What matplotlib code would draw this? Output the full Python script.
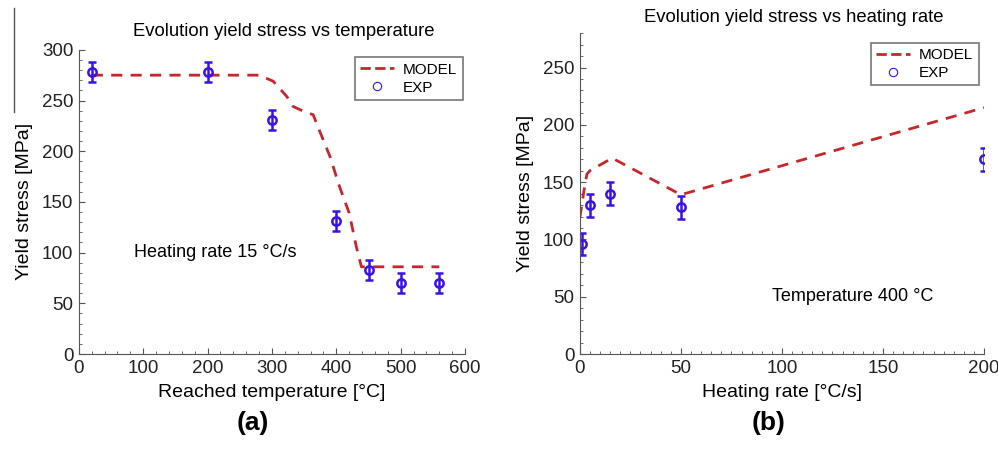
import matplotlib
matplotlib.use("Agg")
import matplotlib.pyplot as plt
from matplotlib.lines import Line2D
from matplotlib.ticker import MultipleLocator
import numpy as np

plt.rcParams['font.family'] = ['Liberation Sans', 'DejaVu Sans']

# (a) yield stress vs reached temperature, heating rate 15 C/s
temp_model = [20, 280, 302, 323, 333, 354, 364, 374, 390, 405, 420, 431, 439, 560]
stress_model_a = [275, 275, 269, 254, 244, 238, 236, 220, 195, 165, 139, 106, 86, 86]
temp_exp = [20, 200, 300, 400, 450, 500, 560]
stress_exp_a = [278, 278, 231, 131, 83, 70, 70]
err_a = [10, 10, 10, 10, 10, 10, 10]

# (b) yield stress vs heating rate, temperature 400 C
rate_model = [0, 2, 3.5, 5, 16, 50, 200]
stress_model_b = [119, 142, 157, 160, 171, 139, 215]
rate_exp = [1, 5, 15, 50, 200]
stress_exp_b = [96, 130, 140, 128, 170]
err_b = [10, 10, 10, 10, 10]

red = '#c8262c'
blue = '#3a12e6'

fig = plt.figure(figsize=(9.98, 4.5), dpi=100)
ax1 = fig.add_axes([0.079, 0.2133, 0.387, 0.676])
ax2 = fig.add_axes([0.581, 0.2133, 0.405, 0.713])


def style_axis(ax):
    for s in ['top', 'right']:
        ax.spines[s].set_visible(False)
    for s in ['left', 'bottom']:
        ax.spines[s].set_color('#555555')
        ax.spines[s].set_linewidth(0.8)
    ax.tick_params(which='both', direction='in', labelsize=13.5, colors='#555555',
                   labelcolor='#222222', pad=4)
    ax.tick_params(which='major', length=4)
    ax.tick_params(which='minor', length=2)


def add_legend(ax, loc_box):
    handles = [Line2D([], [], color=red, ls='--', lw=2),
               Line2D([], [], color=blue, marker='o', ls='none', mfc='none',
                      ms=6, mew=0.8)]
    leg = ax.legend(handles, ['MODEL', 'EXP'], loc='upper left',
                    bbox_to_anchor=loc_box, fontsize=11, frameon=True,
                    fancybox=False, edgecolor='#555555', borderpad=0.35,
                    handlelength=2.2, handletextpad=0.6, labelspacing=0.25,
                    borderaxespad=0)
    leg.get_frame().set_linewidth(1.2)


# panel (a)
ax1.plot(temp_model, stress_model_a, '--', color=red, lw=2, dashes=(4, 3))
ax1.errorbar(temp_exp, stress_exp_a, yerr=err_a, fmt='o', color=blue,
             mfc='none', ms=6, mew=1.8, elinewidth=1.8, capsize=3, capthick=1.8)
ax1.set_xlim(0, 600)
ax1.set_ylim(0, 300)
ax1.xaxis.set_major_locator(MultipleLocator(100))
ax1.xaxis.set_minor_locator(MultipleLocator(20))
ax1.yaxis.set_major_locator(MultipleLocator(50))
ax1.yaxis.set_minor_locator(MultipleLocator(10))
style_axis(ax1)
ax1.set_xlabel('Reached temperature [°C]', fontsize=14, labelpad=5)
ax1.set_ylabel('Yield stress [MPa]', fontsize=14, labelpad=6)
ax1.set_title('Evolution yield stress vs temperature', fontsize=13.3, pad=10, x=0.53)
ax1.text(85, 100, 'Heating rate 15 °C/s', fontsize=13, va='center', ha='left')
add_legend(ax1, (0.715, 0.975))

# panel (b)
ax2.plot(rate_model, stress_model_b, '--', color=red, lw=2, dashes=(4, 3))
ax2.errorbar(rate_exp, stress_exp_b, yerr=err_b, fmt='o', color=blue,
             mfc='none', ms=6, mew=1.8, elinewidth=1.8, capsize=3, capthick=1.8)
ax2.set_xlim(0, 200)
ax2.set_ylim(0, 280)
ax2.xaxis.set_major_locator(MultipleLocator(50))
ax2.xaxis.set_minor_locator(MultipleLocator(5))
ax2.yaxis.set_major_locator(MultipleLocator(50))
ax2.yaxis.set_minor_locator(MultipleLocator(10))
style_axis(ax2)
ax2.set_xlabel('Heating rate [°C/s]', fontsize=14, labelpad=5)
ax2.set_ylabel('Yield stress [MPa]', fontsize=14, labelpad=6)
ax2.set_title('Evolution yield stress vs heating rate', fontsize=13.3, pad=8, x=0.53)
ax2.text(95, 50, 'Temperature 400 °C', fontsize=13, va='center', ha='left')
add_legend(ax2, (0.72, 0.97))

# panel tags
fig.text(0.253, 0.045, '(a)', fontsize=19, fontweight='bold', ha='center')
fig.text(0.77, 0.045, '(b)', fontsize=19, fontweight='bold', ha='center')

# stray vertical rule from the original scan
fig.add_artist(Line2D([0.014, 0.014], [1 - 8 / 450, 1 - 112 / 450],
                      color='#555555', lw=1, transform=fig.transFigure))

fig.savefig('out.png', dpi=100)
